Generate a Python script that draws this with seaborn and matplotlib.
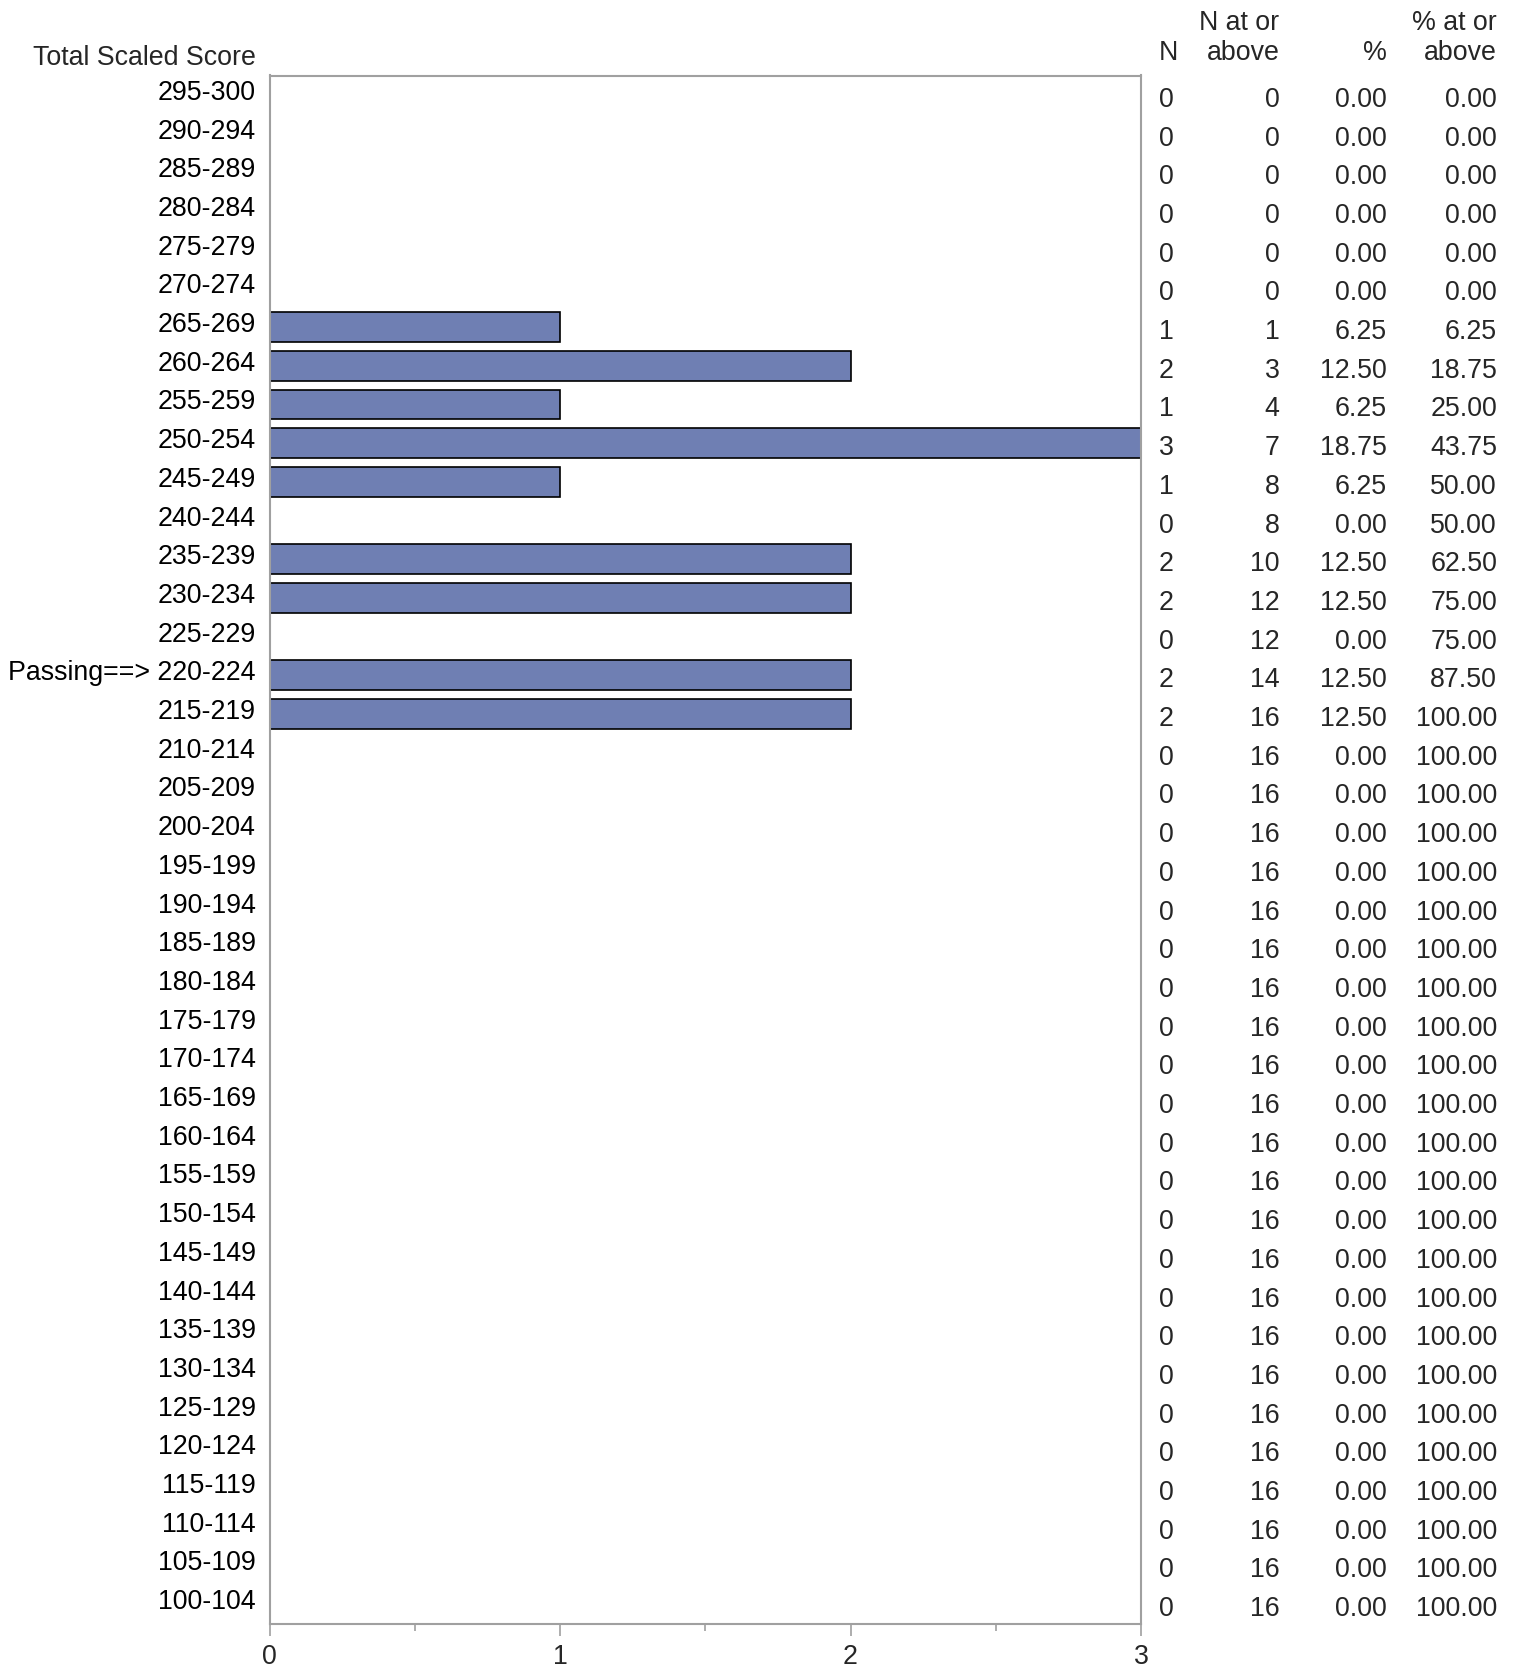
import matplotlib
matplotlib.use("Agg")
import matplotlib.pyplot as plt
import matplotlib.transforms as mtransforms
from matplotlib.ticker import MultipleLocator
import seaborn as sns
import pandas as pd

# Score bands, highest first
score_bands = [
    "295-300", "290-294", "285-289", "280-284", "275-279", "270-274",
    "265-269", "260-264", "255-259", "250-254", "245-249", "240-244",
    "235-239", "230-234", "225-229", "Passing==> 220-224", "215-219",
    "210-214", "205-209", "200-204", "195-199", "190-194", "185-189",
    "180-184", "175-179", "170-174", "165-169", "160-164", "155-159",
    "150-154", "145-149", "140-144", "135-139", "130-134", "125-129",
    "120-124", "115-119", "110-114", "105-109", "100-104",
]

n_count = [0, 0, 0, 0, 0, 0, 1, 2, 1, 3, 1, 0, 2, 2, 0, 2, 2] + [0] * 23
n_at_or_above = [0, 0, 0, 0, 0, 0, 1, 3, 4, 7, 8, 8, 10, 12, 12, 14, 16] + [16] * 23
pct = ["0.00"] * 6 + ["6.25", "12.50", "6.25", "18.75", "6.25", "0.00",
                      "12.50", "12.50", "0.00", "12.50", "12.50"] + ["0.00"] * 23
pct_at_or_above = ["0.00"] * 6 + ["6.25", "18.75", "25.00", "43.75", "50.00",
                                  "50.00", "62.50", "75.00", "75.00", "87.50",
                                  "100.00"] + ["100.00"] * 23

df = pd.DataFrame({"band": score_bands, "n": n_count})

sns.set_style("white")
plt.rcParams["font.family"] = ["Liberation Sans", "DejaVu Sans"]

FS = 19.3
W, H = 1516, 1670
fig = plt.figure(figsize=(W / 100, H / 100), dpi=100)
ax = fig.add_axes([269.5 / W, 1 - 1623.5 / H, (1141 - 269.5) / W, (1623.5 - 75.5) / H])

sns.barplot(data=df, x="n", y="band", orient="h", color="#6f7fb3",
            saturation=1, edgecolor="black", linewidth=1.2, width=0.77, ax=ax)

ax.set_xlim(0, 3)
ax.set_ylim(len(score_bands) - 0.5, -0.5)
ax.set_xlabel("")
ax.set_ylabel("")
ax.xaxis.set_major_locator(MultipleLocator(1))
ax.xaxis.set_minor_locator(MultipleLocator(0.5))

spine_color = "#a0a0a0"
for s in ax.spines.values():
    s.set_color(spine_color)
    s.set_linewidth(1.5)

ax.tick_params(axis="x", which="major", direction="out", length=8.5, width=1.2,
               color=spine_color, labelsize=FS, pad=6, bottom=True)
ax.tick_params(axis="x", which="minor", direction="out", length=5, width=1.2,
               color=spine_color, bottom=True)
ax.tick_params(axis="y", which="both", length=0, labelsize=FS, pad=10)

# Band labels sit a little above the middle of each row
lift = mtransforms.ScaledTranslation(0, 5 / 100, fig.dpi_scale_trans)
for lbl in ax.get_yticklabels():
    lbl.set_color("black")
    lbl.set_transform(lbl.get_transform() + lift)

# Column headings
fig.text(255.5 / W, 1 - 58 / H, "Total Scaled Score", ha="right",
         va="center", fontsize=FS)
fig.text(1159 / W, 1 - 53 / H, "N", ha="left", va="center", fontsize=FS)
fig.text(1279.5 / W, 1 - 53 / H, "above", ha="right", va="center", fontsize=FS)
fig.text(1279.5 / W, 1 - 23 / H, "N at or", ha="right", va="center", fontsize=FS)
fig.text(1387 / W, 1 - 53 / H, "%", ha="right", va="center", fontsize=FS)
fig.text(1497 / W, 1 - 53 / H, "above", ha="right", va="center", fontsize=FS)
fig.text(1497 / W, 1 - 23 / H, "% at or", ha="right", va="center", fontsize=FS)

# Table of counts and percentages beside the bars
drop = mtransforms.ScaledTranslation(0, -2 / 100, fig.dpi_scale_trans)
trans = mtransforms.blended_transform_factory(fig.transFigure, ax.transData) + drop
for i in range(len(score_bands)):
    ax.text(1159 / W, i, str(n_count[i]), transform=trans, ha="left",
            va="center_baseline", fontsize=FS, clip_on=False)
    ax.text(1279.5 / W, i, str(n_at_or_above[i]), transform=trans, ha="right",
            va="center_baseline", fontsize=FS, clip_on=False)
    ax.text(1387 / W, i, pct[i], transform=trans, ha="right",
            va="center_baseline", fontsize=FS, clip_on=False)
    ax.text(1497 / W, i, pct_at_or_above[i], transform=trans, ha="right",
            va="center_baseline", fontsize=FS, clip_on=False)

fig.savefig("out.png", dpi=100, facecolor="white")
